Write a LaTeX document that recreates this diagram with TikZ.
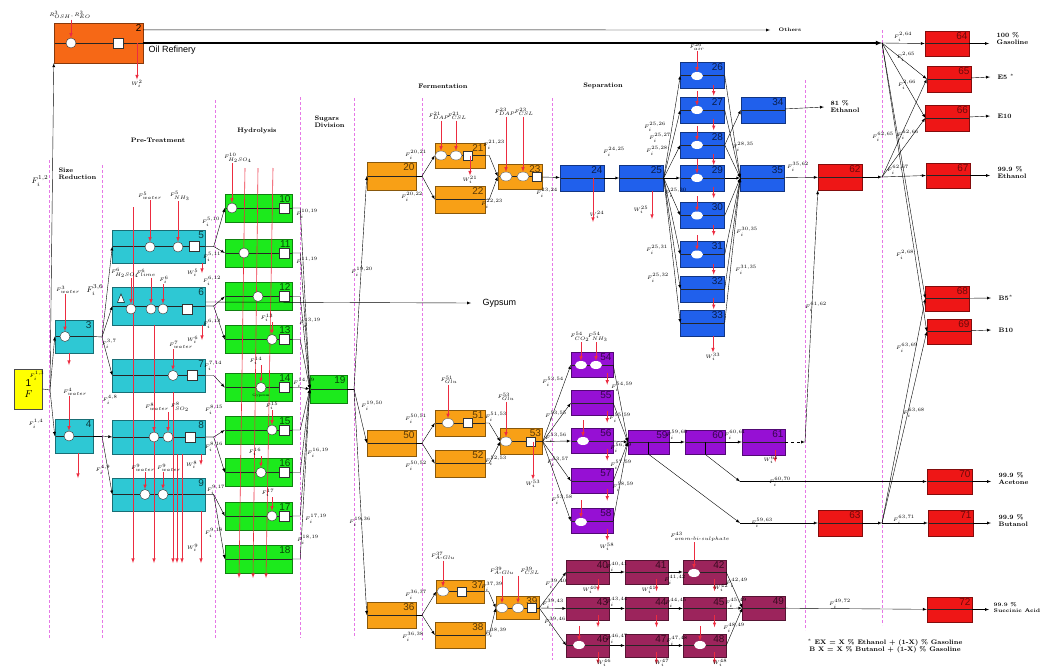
\documentclass[tikz,border=0pt]{standalone}
\usepackage{fontspec}
\usepackage{amsmath}
\usetikzlibrary{shapes.geometric}
\newfontfamily\numfont{Liberation Sans}

\definecolor{rawY}{RGB}{255,255,0}
\definecolor{refO}{RGB}{246,104,22}
\definecolor{pretC}{RGB}{46,200,212}
\definecolor{hydG}{RGB}{28,234,28}
\definecolor{fermO}{RGB}{248,160,22}
\definecolor{sepB}{RGB}{32,96,236}
\definecolor{sepP}{RGB}{150,16,212}
\definecolor{sepM}{RGB}{156,36,92}
\definecolor{prodR}{RGB}{238,22,22}
\definecolor{feedR}{RGB}{236,44,64}
\definecolor{divM}{RGB}{230,120,230}

\tikzset{
  >=latex,
  unit/.style={draw=#1!55!black, fill=#1, inner sep=0pt,
    path picture={\draw[black!85] (path picture bounding box.west) -- (path picture bounding box.east);}},
  num/.style={anchor=north east, inner sep=1.5pt, font=\numfont\fontsize{10}{10}\selectfont},
  cyanbox/.style={unit=pretC, minimum width=93, minimum height=33, label={[num, text=pretC!30!black]north east:#1}},
  greenbox/.style={unit=hydG, minimum width=67, minimum height=28, label={[num, text=hydG!30!black]north east:#1}},
  fermbox/.style={unit=fermO, minimum width=49, minimum height=27, label={[num, text=fermO!35!black]north east:#1}},
  bluebox/.style={unit=sepB, minimum width=44, minimum height=26, label={[num, text=sepB!30!black]north east:#1}},
  violetbox/.style={unit=sepP, minimum width=42, minimum height=25, label={[num, text=sepP!35!black]north east:#1}},
  maroonbox/.style={unit=sepM, minimum width=43, minimum height=24, label={[num, text=sepM!35!black]north east:#1}},
  redbox/.style={unit=prodR, minimum width=44, minimum height=26, label={[num, text=prodR!45!black]north east:#1}},
  mixc/.style={circle, draw=black!80, fill=white, minimum size=10, inner sep=0pt},
  mixo/.style={ellipse, draw=black!60, fill=white, minimum width=12, minimum height=9, inner sep=0pt},
  mixe/.style={ellipse, fill=white, minimum width=12, minimum height=8, inner sep=0pt},
  sqr/.style={draw=black!80, fill=white, minimum size=10, inner sep=0pt},
  feed/.style={draw=feedR, ->, line width=0.6pt},
  divider/.style={draw=divM, line width=0.6pt, dash pattern=on 3pt off 2pt},
  lbl/.style={inner sep=0.5pt, font=\fontsize{5}{5}\selectfont},
  biglbl/.style={inner sep=0.5pt, font=\fontsize{8}{8}\selectfont},
  sect/.style={font=\bfseries\fontsize{6.5}{7}\selectfont},
  prod/.style={anchor=west, align=left, inner sep=0.5pt, font=\bfseries\fontsize{6.5}{7}\selectfont}
}

\begin{document}
\begin{tikzpicture}[x=1pt, y=-1pt]
  \useasboundingbox (0,0) rectangle (1041,667);

  % stage borders
  \draw[divider] (49,160) -- (49,638);
  \draw[divider] (102,165) -- (102,638);
  \draw[divider] (215,100) -- (215,638);
  \draw[divider] (300,97) -- (300,638);
  \draw[divider] (354,98) -- (354,638);
  \draw[divider] (422,98) -- (422,640);
  \draw[divider] (552,98) -- (552,660);
  \draw[divider] (805,80) -- (805,630);
  \draw[divider] (882,30) -- (882,625);

  \node[sect, align=left, anchor=west] (sizered) at (55,174) {Size\\Reduction};
  \node[sect] (pretreat) at (158,140) {Pre-Treatment};
  \node[sect] (hydro) at (257,131) {Hydrolysis};
  \node[sect, align=left, anchor=west] (sugdiv) at (311,122) {Sugars\\Division};
  \node[sect] (ferm) at (443,86) {Fermentation};
  \node[sect] (separ) at (603,86) {Separation};

  % raw material and oil refinery
  \node[draw=black!70, fill=rawY, minimum width=28, minimum height=40, align=center, inner sep=1pt] (u1) at (28.5,389) {{\numfont\fontsize{10}{10}\selectfont 1}\\[-1pt]$F$};
  \node[unit=refO, minimum width=89, minimum height=40, label={[num, text=black]north east:2}] (u2) at (98.5,43) {};
  \node[font=\numfont\fontsize{9}{9}\selectfont, anchor=west] (oilref) at (145,50) {Oil Refinery};

  % size reduction and pre-treatment
  \node[cyanbox=3, minimum width=38] (u3) at (74,336.5) {};
  \node[cyanbox=4, minimum width=38, minimum height=34] (u4) at (74,436) {};
  \node[cyanbox=5] (u5) at (159,246.5) {};
  \node[cyanbox=6, minimum height=38] (u6) at (159,306) {};
  \node[cyanbox=7] (u7) at (159,375.5) {};
  \node[cyanbox=8, minimum height=34] (u8) at (159,437) {};
  \node[cyanbox=9] (u9) at (159,494.5) {};

  % hydrolysis
  \node[greenbox=10] (u10) at (258.5,208) {};
  \node[greenbox=11] (u11) at (258.5,253) {};
  \node[greenbox=12] (u12) at (258.5,296.5) {};
  \node[greenbox=13] (u13) at (258.5,339.5) {};
  \node[greenbox=14] (u14) at (258.5,387.5) {};
  \node[greenbox=15] (u15) at (258.5,430) {};
  \node[greenbox=16] (u16) at (258.5,472.5) {};
  \node[greenbox=17] (u17) at (258.5,516) {};
  \node[greenbox=18] (u18) at (258.5,559) {};
  \node[greenbox=19, minimum width=37] (u19) at (328.5,389) {};

  % fermentation
  \node[fermbox=20, minimum height=28] (u20) at (391.5,176) {};
  \node[fermbox=21, minimum width=50, minimum height=25] (u21) at (460,155.5) {};
  \node[fermbox=22, minimum width=50] (u22) at (460,199.5) {};
  \node[fermbox=23, minimum width=44, minimum height=25] (u23) at (520,176.5) {};
  \node[fermbox=50, minimum height=26] (u50) at (391.5,443) {};
  \node[fermbox=51, minimum width=50, minimum height=26] (u51) at (460,423) {};
  \node[fermbox=52, minimum width=50] (u52) at (460,463.5) {};
  \node[fermbox=53, minimum width=42, minimum height=26] (u53) at (521.5,441.5) {};
  \node[fermbox=36, minimum height=26] (u36) at (391.5,615) {};
  \node[fermbox=37, minimum width=48, minimum height=23] (u37) at (460.5,591.5) {};
  \node[fermbox=38, minimum width=50, minimum height=26] (u38) at (460,635) {};
  \node[fermbox=39, minimum width=43, minimum height=23] (u39) at (517.5,608) {};

  % ethanol separation
  \node[bluebox=24] (u24) at (582,178) {};
  \node[bluebox=25] (u25) at (641.5,178) {};
  \node[bluebox=26] (u26) at (702.5,75.5) {};
  \node[bluebox=27] (u27) at (702.5,110) {};
  \node[bluebox=28] (u28) at (702.5,145) {};
  \node[bluebox=29] (u29) at (702.5,178) {};
  \node[bluebox=30] (u30) at (702.5,215.5) {};
  \node[bluebox=31] (u31) at (702.5,254.5) {};
  \node[bluebox=32] (u32) at (702.5,289) {};
  \node[bluebox=33] (u33) at (702.5,323) {};
  \node[bluebox=34] (u34) at (763,110) {};
  \node[bluebox=35] (u35) at (762.5,178) {};

  % acetone and butanol separation
  \node[violetbox=54] (u54) at (592,365) {};
  \node[violetbox=55] (u55) at (592,403) {};
  \node[violetbox=56] (u56) at (592,441) {};
  \node[violetbox=57] (u57) at (592,481) {};
  \node[violetbox=58] (u58) at (592,521) {};
  \node[violetbox=59, minimum width=41, minimum height=24] (u59) at (648.5,442) {};
  \node[violetbox=60, minimum width=40, minimum height=24] (u60) at (705,442) {};
  \node[violetbox=61, minimum width=43, minimum height=26] (u61) at (763.5,442) {};

  % succinic acid separation
  \node[maroonbox=40] (u40) at (588,572) {};
  \node[maroonbox=41] (u41) at (646.5,572) {};
  \node[maroonbox=42] (u42) at (704.5,572) {};
  \node[maroonbox=43, minimum height=23] (u43) at (588,608.5) {};
  \node[maroonbox=44, minimum height=23] (u44) at (646.5,608.5) {};
  \node[maroonbox=45, minimum height=23] (u45) at (704.5,608.5) {};
  \node[maroonbox=46, minimum height=23] (u46) at (588,645.5) {};
  \node[maroonbox=47, minimum height=23] (u47) at (646.5,645.5) {};
  \node[maroonbox=48, minimum height=23] (u48) at (704.5,645.5) {};
  \node[maroonbox=49, minimum height=24] (u49) at (764,608) {};

  % blending and products
  \node[redbox=62] (u62) at (840,177) {};
  \node[redbox=63] (u63) at (840,523) {};
  \node[redbox=64, minimum height=25] (u64) at (947,43.5) {};
  \node[redbox=65] (u65) at (949,79) {};
  \node[redbox=66] (u66) at (947.5,118) {};
  \node[redbox=67, minimum height=25] (u67) at (948,175.5) {};
  \node[redbox=68, minimum height=25] (u68) at (947.5,298.5) {};
  \node[redbox=69, minimum height=25] (u69) at (949,331.5) {};
  \node[redbox=70, minimum width=45, minimum height=25] (u70) at (949.5,481.5) {};
  \node[redbox=71, minimum width=45] (u71) at (950.5,523) {};
  \node[redbox=72, minimum width=45, minimum height=25] (u72) at (949.5,609.5) {};

  % long utility lines
  \draw[feed] (133,207) -- (133,563);
  \draw[feed] (154,325) -- (154,563);
  \draw[feed] (173,392) -- (173,563);
  \draw[feed] (177,454) -- (177,563);
  \draw[feed] (182,454) -- (182,563);
  \draw[feed] (201,511) -- (201,563);
  \draw[feed] (245,168) -- (239,578);
  \draw[feed] (258,168) -- (253,578);
  \draw[feed] (273,168) -- (266,578);
  \draw[feed] (69,353) -- (69,365);
  \draw[feed] (78,453) -- (78,478);

  % mixers and splitters
  \node[mixc] (c2) at (71,43) {};
  \node[sqr] (q2) at (118,43) {};
  \node[mixc] (c3) at (65,336.5) {};
  \node[mixc] (c4) at (69,436) {};
  \node[mixc] (c5a) at (150,247) {};
  \node[mixc] (c5b) at (178,247) {};
  \node[sqr] (q5) at (194,246.5) {};
  \node[isosceles triangle, shape border rotate=90, draw=black, fill=white, minimum size=7, inner sep=0pt] (t6) at (121,300) {};
  \node[mixc] (c6a) at (131,309) {};
  \node[mixc] (c6b) at (151,309) {};
  \node[mixc] (c6c) at (163,309) {};
  \node[sqr] (q6) at (187,309) {};
  \node[mixc] (c7) at (173,375.5) {};
  \node[sqr] (q7) at (192,375.5) {};
  \node[mixc] (c8a) at (154,437) {};
  \node[mixc] (c8b) at (168,437) {};
  \node[sqr] (q8) at (190,437) {};
  \node[mixc] (c9a) at (145,494.5) {};
  \node[mixc] (c9b) at (163,494.5) {};
  \node[mixc] (c10) at (232,208) {};
  \node[sqr] (q10) at (284,208) {};
  \node[mixc] (c11) at (244,253) {};
  \node[sqr] (q11) at (284,253) {};
  \node[mixc] (c12) at (258,296.5) {};
  \node[sqr] (q12) at (284,296.5) {};
  \node[mixc] (c13) at (272,339.5) {};
  \node[sqr] (q13) at (284,339.5) {};
  \node[mixc] (c14) at (261,387.5) {};
  \node[sqr] (q14) at (284,387.5) {};
  \node[font=\fontsize{3.5}{4}\selectfont, inner sep=0pt] (gyp14) at (261,396) {Gypsum};
  \node[mixc] (c15) at (272,430) {};
  \node[sqr] (q15) at (284,430) {};
  \node[mixc] (c16) at (261,472.5) {};
  \node[sqr] (q16) at (284,472.5) {};
  \node[mixc] (c17) at (272,516) {};
  \node[sqr] (q17) at (284,516) {};
  \node[mixo] (o21a) at (441,155.5) {};
  \node[mixo] (o21b) at (456,155.5) {};
  \node[sqr, minimum size=9] (q21) at (468,155.5) {};
  \node[mixo] (o23a) at (506,176.5) {};
  \node[mixo] (o23b) at (523,176.5) {};
  \node[sqr, minimum size=9] (q23) at (537,176.5) {};
  \node[mixo] (o51) at (448,423) {};
  \node[sqr, minimum size=9] (q51) at (468,423) {};
  \node[mixo] (o53) at (506,441.5) {};
  \node[sqr, minimum size=9] (q53) at (531,441.5) {};
  \node[mixo] (o37) at (443,591.5) {};
  \node[sqr, minimum size=9] (q37) at (462,591.5) {};
  \node[mixo] (o39a) at (502,608) {};
  \node[mixo] (o39b) at (518,608) {};
  \node[sqr, minimum size=9] (q39) at (532,608) {};
  \node[mixe] (e26) at (697,76) {};
  \node[mixe] (e27) at (697,110) {};
  \node[mixe] (e28) at (697,145) {};
  \node[mixe] (e29) at (697,178) {};
  \node[mixe] (e30) at (697,215.5) {};
  \node[mixe] (e31) at (697,254.5) {};
  \node[mixe] (e54a) at (581,365) {};
  \node[mixe] (e54b) at (596,365) {};
  \node[mixe] (e56) at (583,441) {};
  \node[mixe] (e58) at (581,522) {};
  \node[mixe] (e42) at (694,573) {};
  \node[mixe] (e46) at (579,645) {};
  \node[mixe] (e48) at (700,645) {};
  \draw (u59.center) -- (u59.south);
  \draw (u60.center) -- (u60.south);

  % feeds
  \node[lbl] (fr2) at (70,15) {$R^{3}_{OSH}, R^{3}_{EO}$};
  \draw[feed] (fr2.south -| c2) -- (c2);
  \node[lbl] (f3) at (68,290) {$F^{3}_{water}$};
  \draw[feed] (f3.south -| c3) -- (c3);
  \node[lbl] (f4) at (75,392) {$F^{4}_{water}$};
  \draw[feed] (f4.south -| c4) -- (c4);
  \node[lbl] (f5a) at (150,196) {$F^{5}_{water}$};
  \draw[feed] (f5a) -- (c5a);
  \node[lbl] (f5b) at (180,196) {$F^{5}_{NH_3}$};
  \draw[feed] (f5b.south -| c5b) -- (c5b);
  \node[lbl] (f6a) at (125,273) {$F^{6}_{H_2SO_4}$};
  \draw[feed] (f6a.south -| c6a) -- (c6a);
  \node[lbl] (f6b) at (146,273) {$F^{6}_{lime}$};
  \draw[feed] (f6b.south -| c6b) -- (c6b);
  \node[lbl] (f6c) at (164,280) {$F^{6}_{i}$};
  \draw[feed] (f6c.south -| c6c) -- (c6c);
  \node[lbl] (f7) at (181,345) {$F^{7}_{water}$};
  \draw[feed] (f7.south -| c7) -- (c7);
  \node[lbl] (f8a) at (157,407) {$F^{8}_{water}$};
  \draw[feed] (f8a.south -| c8a) -- (c8a);
  \node[lbl] (f8b) at (180,407) {$F^{8}_{SO_2}$};
  \draw[feed] (f8b.south -| c8b) -- (c8b);
  \node[lbl] (f9a) at (143,468) {$F^{9}_{water}$};
  \draw[feed] (f9a.south -| c9a) -- (c9a);
  \node[lbl] (f9b) at (169,468) {$F^{9}_{water}$};
  \draw[feed] (f9b.south -| c9b) -- (c9b);
  \node[lbl] (f10) at (238,158) {$F^{10}_{H_2SO_4}$};
  \draw[feed] (f10.south -| c10) -- (c10);
  \node[lbl] (f13) at (267,318) {$F^{13}_{i}$};
  \draw[feed] (f13.south -| c13) -- (c13);
  \node[lbl] (f14) at (256,361) {$F^{14}_{i}$};
  \draw[feed] (f14.south -| c14) -- (c14);
  \node[lbl] (f15) at (272,406) {$F^{15}_{i}$};
  \draw[feed] (f15.south -| c15) -- (c15);
  \node[lbl] (f16) at (255,452) {$F^{16}_{i}$};
  \draw[feed] (f16.south -| c16) -- (c16);
  \node[lbl] (f17) at (268,493) {$F^{17}_{i}$};
  \draw[feed] (f17.south -| c17) -- (c17);
  \node[lbl] (f21a) at (439,116) {$F^{21}_{DAP}$};
  \draw[feed] (f21a.south -| o21a) -- (o21a);
  \node[lbl] (f21b) at (457,116) {$F^{21}_{CSL}$};
  \draw[feed] (f21b.south -| o21b) -- (o21b);
  \node[lbl] (f23a) at (505,112) {$F^{23}_{DAP}$};
  \draw[feed] (f23a.south -| o23a) -- (o23a);
  \node[lbl] (f23b) at (524,112) {$F^{23}_{CSL}$};
  \draw[feed] (f23b.south -| o23b) -- (o23b);
  \node[lbl] (f51) at (449,380) {$F^{51}_{Glu}$};
  \draw[feed] (f51.south -| o51) -- (o51);
  \node[lbl] (f53) at (506,397) {$F^{53}_{Glu}$};
  \draw[feed] (f53.south -| o53) -- (o53);
  \node[lbl] (f37) at (443,556) {$F^{37}_{A\text{-}Glu}$};
  \draw[feed] (f37.south -| o37) -- (o37);
  \node[lbl] (f39a) at (502,571) {$F^{39}_{A\text{-}Glu}$};
  \draw[feed] (f39a.south -| o39a) -- (o39a);
  \node[lbl] (f39b) at (530,571) {$F^{39}_{CSL}$};
  \draw[feed] (f39b.south -| o39b) -- (o39b);
  \node[lbl] (f26) at (697,47) {$F^{26}_{air}$};
  \draw[feed] (f26) -- (e26);
  \draw[feed] (e27 |- u27.north) ++(0,-6) -- (e27);
  \draw[feed] (e28 |- u28.north) ++(0,-6) -- (e28);
  \draw[feed] (e29 |- u29.north) ++(0,-6) -- (e29);
  \draw[feed] (e30 |- u30.north) ++(0,-6) -- (e30);
  \draw[feed] (e31 |- u31.north) ++(0,-6) -- (e31);
  \node[lbl] (f54a) at (580,337) {$F^{54}_{CO_2}$};
  \draw[feed] (f54a.south -| e54a) -- (e54a);
  \node[lbl] (f54b) at (598,337) {$F^{54}_{NH_3}$};
  \draw[feed] (f54b.south -| e54b) -- (e54b);
  \draw[feed] (e56 |- u56.north) ++(0,-8) -- (e56);
  \draw[feed] (e58 |- u58.north) ++(0,-8) -- (e58);
  \node[lbl] (f42) at (700,537) {$F^{43}_{amm\text{-}bi\text{-}sulphate}$};
  \draw[feed] (f42.south -| e42) -- (e42);
  \draw[feed] (e46 |- u46.north) ++(0,-8) -- (e46);
  \draw[feed] (e48 |- u48.north) ++(0,-8) -- (e48);

  % wastes
  \node[lbl] (w2) at (137,84) {$W_i^{2}$};
  \draw[feed] (w2 |- u2.center) -- (w2.north);
  \node[lbl, anchor=east] (w5) at (199,273) {$W_i^{5}$};
  \draw[feed] (202,263) -- (202,273);
  \node[lbl, anchor=east] (w6) at (199,340) {$W_i^{6}$};
  \draw[feed] (202,325) -- (202,340);
  \node[lbl, anchor=east] (w8) at (198,465) {$W_i^{8}$};
  \draw[feed] (201,454) -- (201,465);
  \node[lbl, anchor=east] (w9) at (199,548) {$W_i^{9}$};
  \node[lbl] (w21) at (470,180) {$W_i^{21}$};
  \draw[feed] (w21 |- u21.center) -- (w21.north);
  \node[lbl] (w24) at (597,215) {$W_i^{24}$};
  \draw[feed] (593,178) -- (593,222);
  \node[lbl] (w25) at (641,210) {$W_i^{25}$};
  \draw[feed] (652,191) -- (652,219);
  \node[lbl] (w53) at (533,484) {$W_i^{53}$};
  \draw[feed] (w53 |- u53.center) -- (w53.north);
  \draw[feed] ([xshift=-11pt]u26.south east) ++(0,-4) -- ++(0,11);
  \draw[feed] ([xshift=-11pt]u27.south east) ++(0,-4) -- ++(0,11);
  \draw[feed] ([xshift=-11pt]u28.south east) ++(0,-4) -- ++(0,11);
  \draw[feed] ([xshift=-11pt]u29.south east) ++(0,-4) -- ++(0,11);
  \draw[feed] ([xshift=-11pt]u30.south east) ++(0,-4) -- ++(0,11);
  \draw[feed] ([xshift=-11pt]u31.south east) ++(0,-4) -- ++(0,11);
  \draw[feed] ([xshift=-11pt]u32.south east) ++(0,-4) -- ++(0,11);
  \node[lbl] (w33) at (713,357) {$W_i^{33}$};
  \draw[feed] (w33 |- u33.south) -- (w33.north);
  \draw[feed] ([xshift=-6pt]u54.south east) ++(0,-5) -- ++(0,12);
  \draw[feed] ([xshift=-6pt]u55.south east) ++(0,-5) -- ++(0,12);
  \draw[feed] ([xshift=-6pt]u56.south east) ++(0,-5) -- ++(0,12);
  \draw[feed] ([xshift=-6pt]u57.south east) ++(0,-5) -- ++(0,12);
  \draw[feed] ([xshift=-6pt]u58.south east) ++(0,-5) -- ++(0,12);
  \node[lbl] (w58) at (607,547) {$W_i^{58}$};
  \draw[feed] ([xshift=-10pt]u61.south east) ++(0,-5) -- ++(0,12);
  \node[lbl] (w61) at (771,460) {$W_i^{61}$};
  \draw[feed] ([xshift=10pt]u40.south) ++(0,-5) -- ++(0,12);
  \draw[feed] ([xshift=10pt]u41.south) ++(0,-5) -- ++(0,12);
  \draw[feed] ([xshift=10pt]u42.south) ++(0,-5) -- ++(0,12);
  \draw[feed] ([xshift=10pt]u43.south) ++(0,-5) -- ++(0,12);
  \draw[feed] ([xshift=10pt]u44.south) ++(0,-5) -- ++(0,12);
  \draw[feed] ([xshift=10pt]u45.south) ++(0,-5) -- ++(0,12);
  \draw[feed] ([xshift=10pt]u46.south) ++(0,-5) -- ++(0,12);
  \draw[feed] ([xshift=10pt]u47.south) ++(0,-5) -- ++(0,12);
  \draw[feed] ([xshift=10pt]u48.south) ++(0,-5) -- ++(0,12);
  \node[lbl] (w40) at (590,590) {$W_i^{40}$};
  \node[lbl] (w41) at (649,590) {$W_i^{41}$};
  \node[lbl] (w42) at (721,588) {$W_i^{42}$};
  \node[lbl] (w46) at (604,663) {$W_i^{46}$};
  \node[lbl] (w47) at (662,663) {$W_i^{47}$};
  \node[lbl] (w48) at (720,663) {$W_i^{48}$};

  % raw material routes
  \coordinate (j1) at (50,390);
  \draw (u1.east) -- (j1);
  \draw[->] (j1) -- (u2.south west);
  \draw[->] (j1) -- (u3.west);
  \draw[->] (j1) -- (u4.west);
  \node[prod, font=\bfseries\fontsize{5}{5}\selectfont] (others) at (778,30) {Others};
  \draw[->] ([yshift=-7pt]u2.north east) -- ([xshift=-8pt]others.west);
  \coordinate (j2) at (882,43);
  \draw[->, line width=1.1pt] (u2.east) -- (j2);
  \draw[->] (j2) -- (u64.west);
  \draw[->] (j2) -- (u65.west);
  \draw[->] (j2) -- (u66.west);
  \draw[->] (j2) -- (u68.west);
  \draw[->] (j2) -- (u69.west);

  % pre-treatment routes
  \coordinate (j3) at (102,337);
  \draw (u3.east) -- (j3);
  \draw[->] (j3) -- (u5.west);
  \draw[->] (j3) -- (u6.west);
  \draw[->] (j3) -- (u7.west);
  \coordinate (j4) at (102,436);
  \draw (u4.east) -- (j4);
  \draw[->] (j4) -- (u8.west);
  \draw[->] (j4) -- (u9.west);
  \draw[->] (u5.east) -- ++(8,0) -- (u10.west);
  \draw[->] (u5.east) -- ++(8,0) -- (u11.west);
  \draw[->] (u6.east) -- ++(8,0) -- (u12.west);
  \draw[->] (u6.east) -- ++(8,0) -- (u13.west);
  \draw[->] (u7.east) -- ++(8,0) -- (u14.west);
  \draw[->] (u8.east) -- ++(8,0) -- (u15.west);
  \draw[->] (u8.east) -- ++(8,0) -- (u16.west);
  \draw[->] (u9.east) -- ++(8,0) -- (u17.west);
  \draw[->] (u9.east) -- ++(8,0) -- (u18.west);
  \node[font=\numfont\fontsize{9}{9}\selectfont, anchor=west] (gypsum) at (479,303) {Gypsum};
  \draw[->] ([yshift=4pt]u6.east) -- ([xshift=-8pt]gypsum.west);

  % hydrolysis routes
  \draw[->] (u10.east) -- ++(8,0) -- (u19.west);
  \draw[->] (u11.east) -- ++(8,0) -- (u19.west);
  \draw[->] (u12.east) -- ++(8,0) -- (u19.west);
  \draw[->] (u13.east) -- ++(8,0) -- (u19.west);
  \draw[->] (u14.east) -- ++(8,0) -- (u19.west);
  \draw[->] (u15.east) -- ++(8,0) -- (u19.west);
  \draw[->] (u16.east) -- ++(8,0) -- (u19.west);
  \draw[->] (u17.east) -- ++(8,0) -- (u19.west);
  \draw[->] (u18.east) -- ++(8,0) -- (u19.west);

  % sugar division and fermentation routes
  \coordinate (j19) at (354,389);
  \draw (u19.east) -- (j19);
  \draw[->] (j19) -- (u20.west);
  \draw[->] (j19) -- (u50.west);
  \draw[->] (j19) -- (u36.west);
  \coordinate (j20) at (422,176);
  \draw (u20.east) -- (j20);
  \draw[->] (j20) -- (u21.west);
  \draw[->] (j20) -- (u22.west);
  \draw[->] (u21.east) -- ++(4,0) -- (u23.west);
  \draw[->] (u22.east) -- ++(4,0) -- (u23.west);
  \coordinate (j50) at (422,443);
  \draw (u50.east) -- (j50);
  \draw[->] (j50) -- (u51.west);
  \draw[->] (j50) -- (u52.west);
  \draw[->] (u51.east) -- ++(4,0) -- (u53.west);
  \draw[->] (u52.east) -- ++(4,0) -- (u53.west);
  \coordinate (j36) at (422,615);
  \draw (u36.east) -- (j36);
  \draw[->] (j36) -- (u37.west);
  \draw[->] (j36) -- (u38.west);
  \draw[->] (u37.east) -- ++(4,0) -- (u39.west);
  \draw[->] (u38.east) -- ++(4,0) -- (u39.west);

  % ethanol separation routes
  \draw[->] (u23) -- (u24);
  \draw[->] (u24) -- (u25);
  \draw[->] (u25.east) -- (u26.west);
  \draw[->] (u25.east) -- (u27.west);
  \draw[->] (u25.east) -- (u28.west);
  \draw[->] (u25.east) -- (u29.west);
  \draw[->] (u25.east) -- (u30.west);
  \draw[->] (u25.east) -- (u31.west);
  \draw[->] (u25.east) -- (u32.west);
  \draw[->] (u25.east) -- (u33.west);
  \draw[->] (u26.east) -- (u35.west);
  \draw[->] (u27.east) -- (u35.west);
  \draw[->] (u28.east) -- (u35.west);
  \draw[->] (u29.east) -- (u35.west);
  \draw[->] (u30.east) -- (u35.west);
  \draw[->] (u31.east) -- (u35.west);
  \draw[->] (u32.east) -- (u35.west);
  \draw[->] (u33.east) -- (u35.west);
  \draw[->] (u28.east) -- (u34.west);
  \draw[->] (u35) -- (u62);
  \coordinate (j62) at (882,177);
  \draw[->] (u62) -- (j62);
  \draw[->] (j62) -- (u65.west);
  \draw[->] (j62) -- (u66.west);
  \draw[->] (j62) -- (u67.west);

  % acetone and butanol routes
  \draw[->] (u53.east) -- (u54.west);
  \draw[->] (u53.east) -- (u55.west);
  \draw[->] (u53.east) -- (u56.west);
  \draw[->] (u53.east) -- (u57.west);
  \draw[->] (u53.east) -- (u58.west);
  \draw[->] (u54.east) -- (u59.west);
  \draw[->] (u55.east) -- (u59.west);
  \draw[->] (u56.east) -- (u59.west);
  \draw[->] (u57.east) -- (u59.west);
  \draw[->] (u58.east) -- (u59.west);
  \draw[->] (u59) -- (u60);
  \draw[->] (u60) -- (u61);
  \coordinate (j61) at (805,442);
  \draw[->, dashed] (u61) -- (j61);
  \draw[->] (j61) -- (u62.south west);
  \coordinate (j60) at (740,481.5);
  \draw[->] (u60.south) -- (j60);
  \draw[->] (j60) -- (u70.west);
  \coordinate (j59) at (740,523);
  \draw[->] (u59.south) -- (j59);
  \draw[->] (j59) -- (u63.west);
  \coordinate (j63) at (882,523);
  \draw[->] (u63) -- (j63);
  \draw[->] (j63) -- (u71.west);
  \draw[->] (j63) -- (u68.west);
  \draw[->] (j63) -- (u69.west);

  % succinic acid routes
  \draw[->] (u39.east) -- (u40.west);
  \draw[->] (u39.east) -- (u43.west);
  \draw[->] (u39.east) -- (u46.west);
  \draw[->] (u40) -- (u41);
  \draw[->] (u41) -- (u42);
  \draw[->] (u43) -- (u44);
  \draw[->] (u44) -- (u45);
  \draw[->] (u46) -- (u47);
  \draw[->] (u47) -- (u48);
  \draw[->] (u42.east) -- (u49.west);
  \draw[->] (u45.east) -- (u49.west);
  \draw[->] (u48.east) -- (u49.west);
  \draw[->] (u49) -- (u72);

  % products
  \node[prod] (e81) at (830,107) {81 \%\\Ethanol};
  \node[prod] (p64) at (996,39) {100 \%\\Gasoline};
  \node[prod] (p65) at (997,77) {E5 $^{*}$};
  \node[prod] (p66) at (997,116) {E10};
  \node[prod] (p67) at (997,173) {99.9 \%\\Ethanol};
  \node[prod] (p68) at (998,298) {B5$^{*}$};
  \node[prod] (p69) at (998,330) {B10};
  \node[prod] (p70) at (998,479) {99.9 \%\\Acetone};
  \node[prod] (p71) at (998,521) {99.9 \%\\Butanol};
  \node[prod, font=\bfseries\fontsize{5.2}{6}\selectfont] (p72) at (993,608) {99.9 \%\\Succinic Acid};
  \draw[->] (u34) -- ([xshift=-6pt]e81.west);
  \draw[->] (u64) -- ([xshift=-7pt]p64.west |- u64);
  \draw[->] (u65) -- ([xshift=-7pt]p65.west);
  \draw[->] (u66) -- ([xshift=-7pt]p66.west);
  \draw[->] (u67) -- ([xshift=-7pt]p67.west |- u67);
  \draw[->] (u68) -- ([xshift=-7pt]p68.west);
  \draw[->] (u69) -- ([xshift=-7pt]p69.west);
  \draw[->] (u70) -- ([xshift=-7pt]p70.west |- u70);
  \draw[->] (u71) -- ([xshift=-7pt]p71.west |- u71);
  \draw[->] (u72) -- ([xshift=-4pt]p72.west |- u72);
  \node[prod, anchor=center, align=center] (note) at (885,646) {$^{*}$ EX = X \% Ethanol + (1-X) \% Gasoline\\B X = X \% Butanol + (1-X) \% Gasoline};

  % stream names
  \node[biglbl] (l12) at (40,181) {$F_i^{1,2}$};
  \node[lbl] (l13) at (37,376) {$F_i^{1,3}$};
  \node[lbl] (l14) at (36,424) {$F_i^{1,4}$};
  \node[biglbl] (l36) at (95,290) {$F_i^{3,6}$};
  \node[lbl] (l37) at (109,344) {$F_i^{3,7}$};
  \node[lbl] (l48) at (110,400) {$F_i^{4,8}$};
  \node[lbl] (l49) at (103,470) {$F_i^{4,9}$};
  \node[lbl] (l510) at (211,222) {$F_i^{5,10}$};
  \node[lbl] (l511) at (212,257) {$F_i^{5,11}$};
  \node[lbl] (l612) at (212,281) {$F_i^{6,12}$};
  \node[lbl] (l613) at (212,324) {$F_i^{6,13}$};
  \node[lbl] (l714) at (213,366) {$F_i^{7,14}$};
  \node[lbl] (l815) at (214,410) {$F_i^{8,15}$};
  \node[lbl] (l816) at (214,447) {$F_i^{8,16}$};
  \node[lbl] (l917) at (216,490) {$F_i^{9,17}$};
  \node[lbl] (l918) at (214,533) {$F_i^{9,18}$};
  \node[lbl] (l1019) at (307,214) {$F_i^{10,19}$};
  \node[lbl] (l1119) at (307,262) {$F_i^{11,19}$};
  \node[lbl] (l1319) at (310,323) {$F_i^{13,19}$};
  \node[lbl] (l1419) at (304,383) {$F_i^{14,19}$};
  \node[lbl] (l1619) at (318,453) {$F_i^{16,19}$};
  \node[lbl] (l1719) at (316,519) {$F_i^{17,19}$};
  \node[lbl] (l1819) at (308,540) {$F_i^{18,19}$};
  \node[lbl] (l1920) at (362,272) {$F_i^{19,20}$};
  \node[lbl] (l1950) at (372,406) {$F_i^{19,50}$};
  \node[lbl] (l1936) at (360,522) {$F_i^{19,36}$};
  \node[lbl] (l2021) at (416,155) {$F_i^{20,21}$};
  \node[lbl] (l2022) at (412,197) {$F_i^{20,22}$};
  \node[lbl] (l2123) at (494,145) {$F_i^{21,23}$};
  \node[lbl] (l2223) at (492,204) {$F_i^{22,23}$};
  \node[lbl] (l2324) at (547,193) {$F_i^{23,24}$};
  \node[lbl] (l2425) at (614,152) {$F_i^{24,25}$};
  \node[lbl] (l2526) at (655,127) {$F_i^{25,26}$};
  \node[lbl] (l2527) at (660,138) {$F_i^{25,27}$};
  \node[lbl] (l2528) at (657,151) {$F_i^{25,28}$};
  \node[lbl] (l2530) at (676,193) {$F_i^{25,30}$};
  \node[lbl] (l2531) at (657,250) {$F_i^{25,31}$};
  \node[lbl] (l2532) at (658,278) {$F_i^{25,32}$};
  \node[lbl] (l2835) at (743,147) {$F_i^{28,35}$};
  \node[lbl] (l3035) at (747,232) {$F_i^{30,35}$};
  \node[lbl] (l3135) at (746,270) {$F_i^{31,35}$};
  \node[lbl] (l3562) at (798,167) {$F_i^{35,62}$};
  \node[lbl] (l6162) at (816,307) {$F_i^{61,62}$};
  \node[lbl] (l264) at (903,37) {$F_i^{2,64}$};
  \node[lbl] (l265) at (906,57) {$F_i^{2,65}$};
  \node[lbl] (l266) at (907,85) {$F_i^{2,66}$};
  \node[lbl] (l6265) at (883,137) {$F_i^{62,65}$};
  \node[lbl] (l6266) at (908,135) {$F_i^{62,66}$};
  \node[lbl] (l6267) at (898,170) {$F_i^{62,67}$};
  \node[lbl] (l268) at (905,255) {$F_i^{2,68}$};
  \node[lbl] (l6369) at (907,348) {$F_i^{63,69}$};
  \node[lbl] (l6368) at (914,413) {$F_i^{63,68}$};
  \node[lbl] (l6371) at (904,520) {$F_i^{63,71}$};
  \node[lbl] (l5051) at (416,419) {$F_i^{50,51}$};
  \node[lbl] (l5052) at (416,466) {$F_i^{50,52}$};
  \node[lbl] (l5153) at (496,417) {$F_i^{51,53}$};
  \node[lbl] (l5253) at (496,461) {$F_i^{52,53}$};
  \node[lbl] (l5354) at (553,382) {$F_i^{53,54}$};
  \node[lbl] (l5355) at (556,416) {$F_i^{53,55}$};
  \node[lbl] (l5356) at (556,438) {$F_i^{53,56}$};
  \node[lbl] (l5357) at (558,462) {$F_i^{53,57}$};
  \node[lbl] (l5358) at (562,500) {$F_i^{53,58}$};
  \node[lbl] (l5459) at (622,387) {$F_i^{54,59}$};
  \node[lbl] (l5559) at (620,418) {$F_i^{55,59}$};
  \node[lbl] (l5659) at (621,448) {$F_i^{56,59}$};
  \node[lbl] (l5759) at (621,465) {$F_i^{57,59}$};
  \node[lbl] (l5859) at (623,487) {$F_i^{58,59}$};
  \node[lbl] (l5960) at (677,435) {$F_i^{59,60}$};
  \node[lbl] (l6061) at (735,435) {$F_i^{60,61}$};
  \node[lbl] (l6070) at (780,482) {$F_i^{60,70}$};
  \node[lbl] (l5963) at (762,523) {$F_i^{59,63}$};
  \node[lbl] (l3637) at (416,595) {$F_i^{36,37}$};
  \node[lbl] (l3638) at (413,637) {$F_i^{36,38}$};
  \node[lbl] (l3739) at (492,587) {$F_i^{37,39}$};
  \node[lbl] (l3839) at (496,633) {$F_i^{38,39}$};
  \node[lbl] (l3940) at (556,584) {$F_i^{39,40}$};
  \node[lbl] (l3943) at (553,604) {$F_i^{39,43}$};
  \node[lbl] (l3946) at (555,622) {$F_i^{39,46}$};
  \node[lbl] (l4041) at (617,567) {$F_i^{40,41}$};
  \node[lbl] (l4344) at (617,602) {$F_i^{43,44}$};
  \node[lbl] (l4647) at (617,639) {$F_i^{46,47}$};
  \node[lbl] (l4142) at (675,580) {$F_i^{41,42}$};
  \node[lbl] (l4445) at (676,603) {$F_i^{44,45}$};
  \node[lbl] (l4748) at (677,641) {$F_i^{47,48}$};
  \node[lbl] (l4249) at (737,583) {$F_i^{42,49}$};
  \node[lbl] (l4549) at (736,603) {$F_i^{45,49}$};
  \node[lbl] (l4849) at (734,628) {$F_i^{48,49}$};
  \node[lbl] (l4972) at (840,604) {$F_i^{49,72}$};
\end{tikzpicture}
\end{document}
